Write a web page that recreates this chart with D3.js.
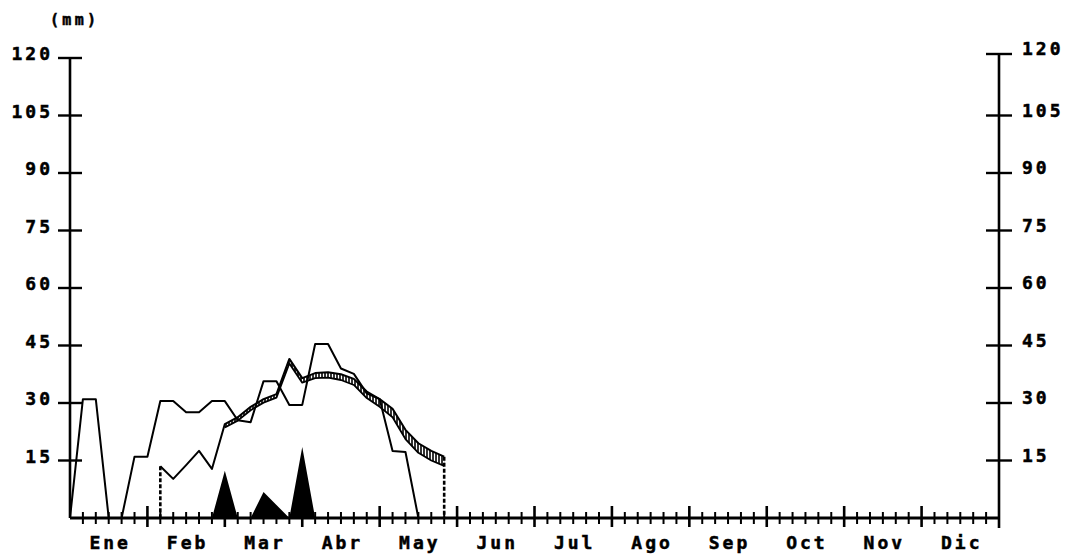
<!DOCTYPE html>
<html><head><meta charset="utf-8">
<script src="https://cdn.jsdelivr.net/npm/d3@7"></script>
<style>
html,body{margin:0;padding:0;background:#fff;}
svg{display:block;}
text{font-family:"DejaVu Sans Mono",monospace;font-weight:bold;fill:#000;stroke:#000;stroke-width:0.5;}
</style></head><body>
<svg id="chart" width="1072" height="556"></svg>
<script>
// Months of the year, each split into 6 pentads (72 in total)
const months = ["Ene","Feb","Mar","Abr","May","Jun","Jul","Ago","Sep","Oct","Nov","Dic"];
const yTicks = [15,30,45,60,75,90,105,120];

// Precipitation (mm), one value per pentad from the start of January
const precip = [0,31,31,0,0,16,16,30.5,30.5,27.6,27.6,30.5,30.5,25.5,25,35.7,35.7,29.5,29.5,45.4,45.4,39,37.6,32.5,31,17.5,17.2,0];

// Maximum evapotranspiration (mm), from pentad 7 to pentad 29
const etmStart = 7;
const etm = [13.5,10.2,13.8,17.5,12.8,24.5,26.3,29,31,32.3,41.5,36.5,37.8,38,37.5,36.3,33,31,28.5,23,19.5,17.5,16];

// Actual evapotranspiration (mm), from pentad 12 to pentad 29
const etrStart = 12;
const etr = [23.6,25.4,28.1,30.1,31.4,40.3,35.3,36.5,36.6,36.0,34.7,31.3,29.0,26.3,20.6,17.0,15.0,13.6];

// Water surplus (mm), from pentad 11 to pentad 19
const surplusStart = 11;
const surplus = [0,12.3,0,0,6.8,3.4,0,18.5,0];

const svg = d3.select("#chart");
const x = d3.scaleLinear().domain([0,72]).range([70,999]);
const y = d3.scaleLinear().domain([0,120]).range([518,58]);

const defs = svg.append("defs");
const pat = defs.append("pattern").attr("id","hatch")
  .attr("patternUnits","userSpaceOnUse").attr("width",3).attr("height",6);
pat.append("line").attr("x1",1).attr("x2",1).attr("y1",0).attr("y2",6)
  .attr("stroke","#000").attr("stroke-width",1.6);

const ink = "#000";

// Surplus triangles
const surplusPts = surplus.map((v,i)=>({k:surplusStart+i,v}));
svg.append("path").datum(surplusPts)
  .attr("d", d3.area().x(d=>x(d.k)).y0(y(0)).y1(d=>y(d.v)))
  .attr("fill", ink);

// Band between ETM and ETR
const band = etr.map((v,i)=>({k:etrStart+i, lo:v, hi:etm[etrStart-etmStart+i]}));
svg.append("path").datum(band)
  .attr("d", d3.area().x(d=>x(d.k)).y0(d=>y(d.lo)).y1(d=>y(d.hi)))
  .attr("fill","url(#hatch)");

const line = d3.line().x(d=>x(d.k)).y(d=>y(d.v));

// ETR line
svg.append("path").datum(etr.map((v,i)=>({k:etrStart+i,v})))
  .attr("d", line).attr("fill","none").attr("stroke",ink)
  .attr("stroke-width",1.8).attr("stroke-linejoin","round");

// ETM line
const etmPts = etm.map((v,i)=>({k:etmStart+i,v}));
svg.append("path").datum(etmPts)
  .attr("d", line).attr("fill","none").attr("stroke",ink)
  .attr("stroke-width",2).attr("stroke-linejoin","round");

// Season start and end drop lines
[etmPts[0], etmPts[etmPts.length-1]].forEach(p=>{
  svg.append("line")
    .attr("x1",x(p.k)).attr("x2",x(p.k))
    .attr("y1",y(p.v)).attr("y2",y(0))
    .attr("stroke",ink).attr("stroke-width",2.6)
    .attr("stroke-dasharray","4,2");
});

// Precipitation line
svg.append("path").datum(precip.map((v,k)=>({k,v})))
  .attr("d", line).attr("fill","none").attr("stroke",ink)
  .attr("stroke-width",2).attr("stroke-linejoin","round");

// Axes
const axes = svg.append("g").attr("stroke",ink);
axes.append("line").attr("x1",x(0)).attr("x2",x(0)).attr("y1",y(120)).attr("y2",y(0)).attr("stroke-width",2.6);
axes.append("line").attr("x1",x(72)).attr("x2",x(72)).attr("y1",y(120)-4).attr("y2",y(0)+10).attr("stroke-width",2.6);
axes.append("line").attr("x1",x(0)).attr("x2",x(72)).attr("y1",y(0)).attr("y2",y(0)).attr("stroke-width",3);

// Y ticks on both sides
yTicks.forEach(t=>{
  axes.append("line").attr("x1",x(0)-12).attr("x2",x(0)+12)
    .attr("y1",y(t)).attr("y2",y(t)).attr("stroke-width",2.4);
  axes.append("line").attr("x1",x(72)-13).attr("x2",x(72)+13)
    .attr("y1",y(t)-(t===120?4:0)).attr("y2",y(t)-(t===120?4:0)).attr("stroke-width",2.4);
});

// X ticks: pentads, larger at month boundaries
d3.range(1,72).forEach(k=>{
  const major = k%6===0;
  axes.append("line").attr("x1",x(k)).attr("x2",x(k))
    .attr("y1",y(0)-(major?12:6)).attr("y2",y(0)+(major?9:6))
    .attr("stroke-width",major?2.6:2);
});

// Labels
const lab = svg.append("g").attr("font-size",18).attr("letter-spacing",3);
yTicks.forEach(t=>{
  lab.append("text").attr("x",53).attr("y",y(t)+2).attr("text-anchor","end").text(t);
  lab.append("text").attr("x",1022).attr("y",y(t)-(t===120?4:0)+1).text(t);
});
months.forEach((m,i)=>{
  lab.append("text").attr("x",(x(i*6)+x(i*6+6))/2+1.5).attr("y",549)
    .attr("text-anchor","middle").text(m);
});
svg.append("text").attr("x",50).attr("y",25).attr("font-size",15)
  .attr("textLength",46).attr("lengthAdjust","spacing").text("(mm)");
</script>
</body></html>
